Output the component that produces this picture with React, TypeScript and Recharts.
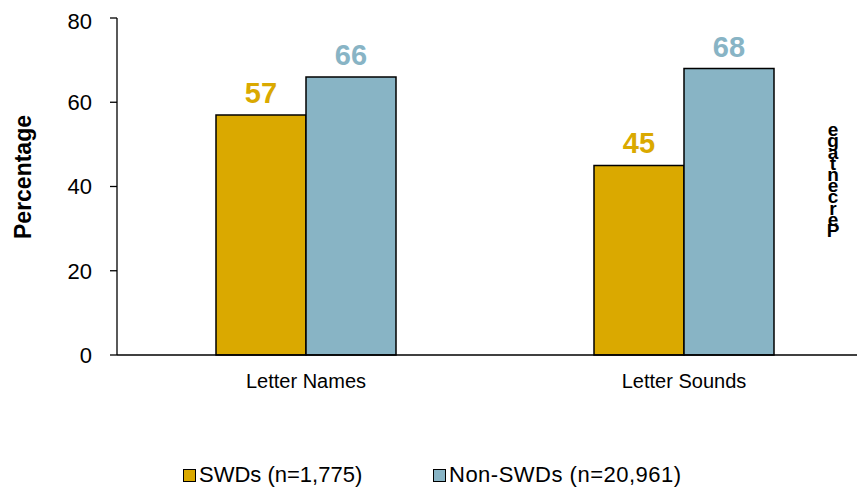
import React from 'react';
import { BarChart, Bar, XAxis, YAxis, LabelList, Customized } from 'recharts';

const categories = ['Letter Names', 'Letter Sounds'];
const swdValues = [57, 45];
const nonSwdValues = [66, 68];
const yTicks = [0, 20, 40, 60, 80];
const seriesNames = ['SWDs (n=1,775)', 'Non-SWDs (n=20,961)'];

const GOLD = '#DAA900';
const BLUE = '#88B4C5';
const FONT = '"Liberation Sans", Arial, sans-serif';

const data = categories.map((name, i) => ({
  name,
  swd: swdValues[i],
  nonSwd: nonSwdValues[i],
}));

// stray vertical title left over on the right side of the original
const StrayTitle = () => {
  const letters = 'Percentage'.split('');
  return (
    <g>
      {letters.map((ch, i) => (
        <text
          key={i}
          x={825}
          y={229 - i * 11.2}
          textAnchor="middle"
          fontFamily={FONT}
          fontWeight="bold"
          fontSize={19}
          fill="#000"
        >
          {ch}
        </text>
      ))}
    </g>
  );
};

const YTitle = () => (
  <text
    x={15}
    y={169}
    transform="rotate(-90 15 169)"
    textAnchor="middle"
    dominantBaseline="central"
    fontFamily={FONT}
    fontWeight="bold"
    fontSize={23}
    fill="#000"
  >
    Percentage
  </text>
);

const LegendRow = () => (
  <div
    style={{
      position: 'absolute',
      top: 454,
      left: 0,
      width: 857,
      fontFamily: FONT,
      fontSize: 22,
      color: '#000',
    }}
  >
    {seriesNames.map((name, i) => (
      <div
        key={name}
        style={{
          position: 'absolute',
          left: i === 0 ? 175 : 425,
          display: 'flex',
          alignItems: 'center',
          whiteSpace: 'nowrap',
          letterSpacing: i === 0 ? 0 : 0.5,
        }}
      >
        <span
          style={{
            display: 'inline-block',
            width: 11,
            height: 11,
            background: i === 0 ? GOLD : BLUE,
            border: '1px solid #000',
            marginRight: 3,
          }}
        />
        <span>{name}</span>
      </div>
    ))}
  </div>
);

export default function App() {
  return (
    <div style={{ position: 'relative', width: 857, height: 484, overflow: 'hidden', background: '#fff' }}>
      <BarChart
        width={865}
        height={420}
        data={data}
        margin={{ top: 10, right: 0, left: 0, bottom: 33 }}
        barGap={0}
        barSize={90}
      >
        <XAxis
          dataKey="name"
          tickLine={false}
          tickSize={0}
          tickMargin={19}
          height={40}
          axisLine={{ stroke: '#000', strokeWidth: 1.3 }}
          tick={{ fill: '#000', fontSize: 20, fontFamily: FONT }}
        />
        <YAxis
          domain={[0, 80]}
          ticks={yTicks}
          width={109}
          tickSize={7}
          tickMargin={18}
          axisLine={{ stroke: '#000', strokeWidth: 1.3 }}
          tickLine={{ stroke: '#000', strokeWidth: 1.3 }}
          tick={{ fill: '#000', fontSize: 22, fontFamily: FONT }}
        />
        <Bar dataKey="swd" fill={GOLD} stroke="#000" strokeWidth={1.5} isAnimationActive={false}>
          <LabelList
            dataKey="swd"
            position="top"
            offset={12}
            fill={GOLD}
            fontSize={29}
            fontWeight="bold"
            fontFamily={FONT}
          />
        </Bar>
        <Bar dataKey="nonSwd" fill={BLUE} stroke="#000" strokeWidth={1.5} isAnimationActive={false}>
          <LabelList
            dataKey="nonSwd"
            position="top"
            offset={12}
            fill={BLUE}
            fontSize={29}
            fontWeight="bold"
            fontFamily={FONT}
          />
        </Bar>
        <Customized component={YTitle} />
        <Customized component={StrayTitle} />
      </BarChart>
      <LegendRow />
    </div>
  );
}
